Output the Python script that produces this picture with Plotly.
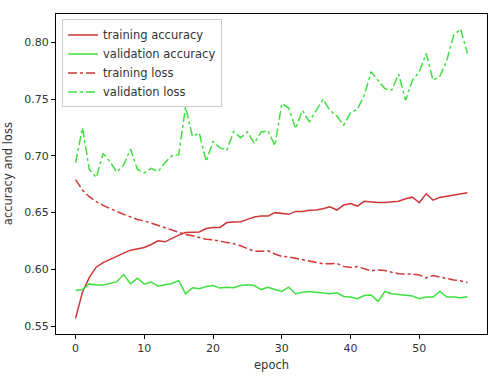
import plotly.graph_objects as go

epochs = list(range(58))

train_acc = [0.557, 0.580, 0.593, 0.602, 0.606, 0.609, 0.6115, 0.6144, 0.617, 0.6185,
             0.6194, 0.622, 0.6252, 0.6243, 0.6273, 0.6302, 0.6325, 0.633, 0.633, 0.636,
             0.6369, 0.637, 0.6413, 0.6418, 0.642, 0.6441, 0.6461, 0.647, 0.647, 0.650,
             0.6494, 0.6485, 0.6511, 0.651, 0.652, 0.6523, 0.6535, 0.6552, 0.6523, 0.6567,
             0.658, 0.6558, 0.660, 0.6593, 0.659, 0.659, 0.6598, 0.660, 0.6622, 0.6636,
             0.6587, 0.6666, 0.661, 0.6634, 0.6645, 0.6657, 0.6669, 0.6675]

val_acc = [0.5815, 0.5823, 0.5873, 0.5864, 0.5864, 0.588, 0.5893, 0.5955, 0.5873, 0.5923,
           0.587, 0.589, 0.5853, 0.5866, 0.5877, 0.5902, 0.5786, 0.5838, 0.583, 0.585,
           0.5858, 0.5836, 0.5844, 0.584, 0.5858, 0.5865, 0.5858, 0.5823, 0.5844, 0.5823,
           0.5806, 0.5844, 0.5786, 0.580, 0.5806, 0.580, 0.5795, 0.5786, 0.5795, 0.5762,
           0.5757, 0.5742, 0.5771, 0.5776, 0.5719, 0.5806, 0.5786, 0.578, 0.5771, 0.5766,
           0.5742, 0.5757, 0.5757, 0.5806, 0.5757, 0.5757, 0.575, 0.576]

train_loss = [0.679, 0.6698, 0.664, 0.6596, 0.6564, 0.6535, 0.651, 0.6485, 0.6465, 0.644,
              0.6427, 0.6407, 0.639, 0.637, 0.6348, 0.6325, 0.6308, 0.6296, 0.628, 0.6265,
              0.626, 0.6249, 0.6238, 0.6226, 0.6208, 0.6185, 0.616, 0.616, 0.6164, 0.6136,
              0.6115, 0.611, 0.6098, 0.6086, 0.6072, 0.6063, 0.605, 0.605, 0.6054, 0.6027,
              0.6017, 0.6025, 0.6004, 0.5987, 0.5996, 0.599, 0.5975, 0.5963, 0.596, 0.596,
              0.5952, 0.5926, 0.5946, 0.5932, 0.5917, 0.5908, 0.590, 0.5885]

val_loss = [0.694, 0.7246, 0.688, 0.681, 0.702, 0.695, 0.6855, 0.692, 0.706, 0.688,
            0.685, 0.689, 0.686, 0.694, 0.700, 0.701, 0.743, 0.717, 0.720, 0.695,
            0.7126, 0.707, 0.705, 0.7213, 0.716, 0.721, 0.711, 0.721, 0.722, 0.709,
            0.746, 0.742, 0.724, 0.740, 0.730, 0.740, 0.7497, 0.740, 0.735, 0.727,
            0.738, 0.741, 0.7534, 0.774, 0.7665, 0.759, 0.758, 0.772, 0.749, 0.7665,
            0.774, 0.790, 0.7665, 0.770, 0.784, 0.806, 0.8117, 0.790]

x_ticks = [0, 10, 20, 30, 40, 50]
y_ticks = [0.55, 0.60, 0.65, 0.70, 0.75, 0.80]

RED = "#d03535"
GREEN = "#3fe03f"

fig = go.Figure()
fig.add_trace(go.Scatter(x=epochs, y=train_acc, mode="lines", name="training accuracy",
                         line=dict(color=RED, width=1.5)))
fig.add_trace(go.Scatter(x=epochs, y=val_acc, mode="lines", name="validation accuracy",
                         line=dict(color=GREEN, width=1.5)))
fig.add_trace(go.Scatter(x=epochs, y=train_loss, mode="lines", name="training loss",
                         line=dict(color=RED, width=1.5, dash="dashdot")))
fig.add_trace(go.Scatter(x=epochs, y=val_loss, mode="lines", name="validation loss",
                         line=dict(color=GREEN, width=1.5, dash="dashdot")))

axis_common = dict(showline=True, linecolor="black", linewidth=1, mirror=True,
                   showgrid=False, zeroline=False, ticks="outside", ticklen=4,
                   automargin=False,
                   tickcolor="black", tickfont=dict(family="DejaVu Sans", size=11, color="#333"))

fig.update_layout(
    width=494, height=376,
    margin=dict(l=56, r=7, t=14, b=42),
    paper_bgcolor="white", plot_bgcolor="white",
    font=dict(family="DejaVu Sans", size=11, color="#333"),
    xaxis=dict(range=[-2.85, 59.85], tickvals=x_ticks, ticktext=[str(v) for v in x_ticks],
               **axis_common),
    yaxis=dict(range=[0.5432, 0.8248], tickvals=y_ticks, ticktext=[f"{v:.2f}" for v in y_ticks],
               **axis_common),
    legend=dict(x=0.014, y=0.983, xanchor="left", yanchor="top",
                bgcolor="rgba(255,255,255,0.8)", bordercolor="#cccccc", borderwidth=1,
                font=dict(family="DejaVu Sans", size=11.5, color="#333"),
                tracegroupgap=0, itemwidth=30),
    showlegend=True,
    annotations=[
        dict(text="epoch", xref="paper", yref="paper", x=0.5, y=-0.097,
             xanchor="center", yanchor="middle", showarrow=False,
             font=dict(family="DejaVu Sans", size=11.5, color="#333")),
        dict(text="accuracy and loss", xref="paper", yref="paper", x=-0.111, y=0.5,
             xanchor="center", yanchor="middle", textangle=-90, showarrow=False,
             font=dict(family="DejaVu Sans", size=11.5, color="#333")),
    ],
)

fig.write_html("out.html", config={"displayModeBar": False},
               post_script="document.body.style.margin='0';")
